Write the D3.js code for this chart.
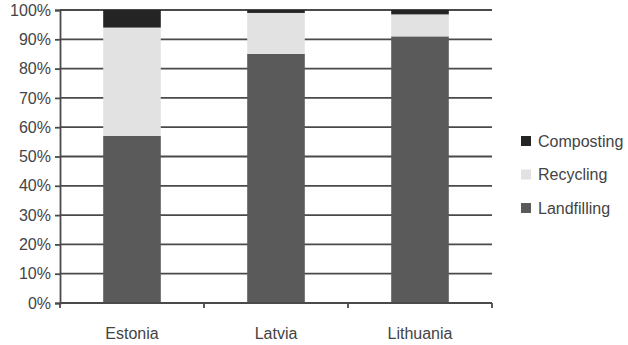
<!DOCTYPE html>
<html lang="en">
<head>
  <meta charset="UTF-8">
  <title>Waste treatment shares</title>
  <script src="https://d3js.org/d3.v7.min.js"></script>
  <style>
    body { margin: 0; background: #fff; }
    svg { display: block; }
    text { font-family: "Liberation Sans", Arial, sans-serif; fill: #444; }
  </style>
</head>
<body>
  <svg width="628" height="345"></svg>
  <script>
    // data (percent)
    const countries = ["Estonia", "Latvia", "Lithuania"];
    const landfilling = [57, 85, 91];
    const recycling = [37, 14, 7.5];
    const composting = [6, 1, 1.5];
    const seriesNames = ["Landfilling", "Recycling", "Composting"];
    const seriesColors = ["#5a5a5a", "#e2e2e2", "#242424"];
    const yTicks = [0, 10, 20, 30, 40, 50, 60, 70, 80, 90, 100];

    const svg = d3.select("svg");
    const margin = { left: 60, right: 136, top: 10, bottom: 42 };
    const width = 628, height = 345;

    const x = d3.scaleBand()
      .domain(countries)
      .range([margin.left, width - margin.right])
      .paddingInner(0.6)
      .paddingOuter(0.3);

    const y = d3.scaleLinear()
      .domain([0, 100])
      .range([height - margin.bottom, margin.top]);

    const rows = countries.map((c, i) => ({
      country: c,
      Landfilling: landfilling[i],
      Recycling: recycling[i],
      Composting: composting[i]
    }));
    const stacked = d3.stack().keys(seriesNames)(rows);

    // gridlines
    svg.append("g")
      .selectAll("line")
      .data(yTicks.slice(1))
      .join("line")
      .attr("x1", margin.left)
      .attr("x2", width - margin.right)
      .attr("y1", d => y(d))
      .attr("y2", d => y(d))
      .attr("stroke", "#4a4a4a")
      .attr("stroke-width", 1.8);

    // bars
    svg.append("g")
      .selectAll("g")
      .data(stacked)
      .join("g")
      .attr("fill", (d, i) => seriesColors[i])
      .selectAll("rect")
      .data(d => d)
      .join("rect")
      .attr("x", d => x(d.data.country))
      .attr("width", x.bandwidth())
      .attr("y", d => y(d[1]))
      .attr("height", d => y(d[0]) - y(d[1]));

    // y axis
    const yAxis = svg.append("g")
      .attr("transform", `translate(${margin.left},0)`)
      .call(d3.axisLeft(y).tickValues(yTicks).tickFormat(d => d + "%").tickSize(5).tickPadding(4));
    yAxis.selectAll("path, line").attr("stroke", "#4a4a4a").attr("stroke-width", 1.8);
    yAxis.selectAll("text").style("font-size", "16px").attr("fill", "#444");

    // x axis with ticks at category boundaries
    const xAxisG = svg.append("g")
      .attr("transform", `translate(0,${y(0)})`);
    xAxisG.append("line")
      .attr("x1", margin.left).attr("x2", width - margin.right)
      .attr("stroke", "#4a4a4a").attr("stroke-width", 1.8);
    const step = x.step();
    const bounds = d3.range(countries.length + 1).map(i => margin.left + i * (width - margin.left - margin.right) / countries.length);
    xAxisG.selectAll(".bt")
      .data(bounds)
      .join("line")
      .attr("class", "bt")
      .attr("x1", d => d).attr("x2", d => d)
      .attr("y1", 0).attr("y2", 5)
      .attr("stroke", "#4a4a4a").attr("stroke-width", 1.8);
    xAxisG.selectAll("text")
      .data(countries)
      .join("text")
      .attr("x", d => x(d) + x.bandwidth() / 2)
      .attr("y", 36)
      .attr("text-anchor", "middle")
      .style("font-size", "16px")
      .text(d => d);

    // legend
    const legendOrder = ["Composting", "Recycling", "Landfilling"];
    const legend = svg.append("g")
      .selectAll("g")
      .data(legendOrder)
      .join("g")
      .attr("transform", (d, i) => `translate(521,${141 + i * 33.5})`);
    legend.append("rect")
      .attr("x", 0).attr("y", -5)
      .attr("width", 10).attr("height", 10)
      .attr("fill", d => seriesColors[seriesNames.indexOf(d)]);
    legend.append("text")
      .attr("x", 17).attr("y", 0)
      .attr("dy", "0.35em")
      .style("font-size", "16px")
      .text(d => d);
  </script>
</body>
</html>
